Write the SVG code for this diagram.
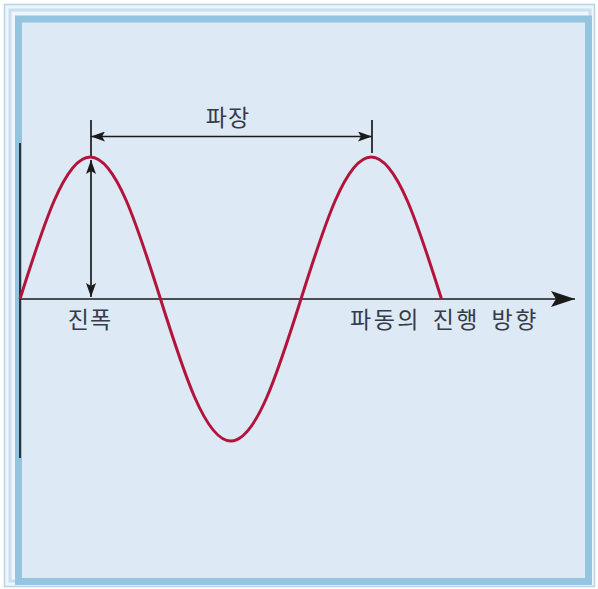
<svg xmlns="http://www.w3.org/2000/svg" width="598" height="589" viewBox="0 0 598 589">
<style>
.lbl{font-family:"Noto Sans CJK KR","Noto Sans",sans-serif;font-size:23px;font-weight:400;fill:#353b48}
.ln{stroke:#1a1a1a;stroke-width:1.7;fill:none}
.wave{stroke:#b3143c;stroke-width:3;fill:none}
</style>
<defs>
<marker id="ah" viewBox="0 0 14 10" refX="14" refY="5" markerWidth="14" markerHeight="10" markerUnits="userSpaceOnUse" orient="auto-start-reverse">
<path d="M0,0 L14,5 L0,10 L3,5 Z" fill="#1a1a1a"/>
</marker>
<marker id="ahb" viewBox="0 0 24 16" refX="24" refY="8" markerWidth="24" markerHeight="16" markerUnits="userSpaceOnUse" orient="auto">
<path d="M0,0 L24,8 L0,16 L5,8 Z" fill="#1a1a1a"/>
</marker>
</defs>
<g id="frame">
<rect x="0" y="0" width="598" height="589" fill="#ffffff"/>
<rect x="4.5" y="4.5" width="590" height="582" fill="#eef5fb" stroke="#b5d6ea" stroke-width="1.5"/>
<rect x="10" y="10" width="580" height="571" fill="none" stroke="#c8e0ef" stroke-width="3"/>
<rect x="18.5" y="19" width="570" height="562.5" fill="#dde9f4" stroke="#95c4e1" stroke-width="7"/>
</g>
<g id="connectors">
<line class="ln" x1="20" y1="143" x2="20" y2="458"/>
<line class="ln" x1="20" y1="299" x2="575" y2="299" marker-end="url(#ahb)"/>
<line class="ln" x1="91" y1="120" x2="91" y2="157"/>
<line class="ln" x1="372" y1="120" x2="372" y2="153"/>
<line class="ln" x1="91" y1="136.5" x2="372" y2="136.5" marker-start="url(#ah)" marker-end="url(#ah)"/>
<line class="ln" x1="91" y1="160" x2="91" y2="297" marker-start="url(#ah)" marker-end="url(#ah)"/>
</g>
<g id="wave">
<path class="wave" d="M20,299 C42.9,226.3 64.8,157 90.25,157 C115.7,157 137.6,226.3 160.5,299 C183.4,371.7 205.3,441 230.75,441 C256.2,441 278.1,371.7 301,299 C323.9,226.3 345.8,157 371.25,157 C396.7,157 418.6,226.3 441.5,299"/>
</g>
<g id="label-wavelength"><text class="lbl" x="228" y="126" text-anchor="middle" letter-spacing="1">파장</text></g>
<g id="label-amplitude"><text class="lbl" x="90" y="328" text-anchor="middle" letter-spacing="1">진폭</text></g>
<g id="label-direction"><text class="lbl" x="350" y="328" letter-spacing="2.5" word-spacing="4">파동의 진행 방향</text></g>
</svg>
